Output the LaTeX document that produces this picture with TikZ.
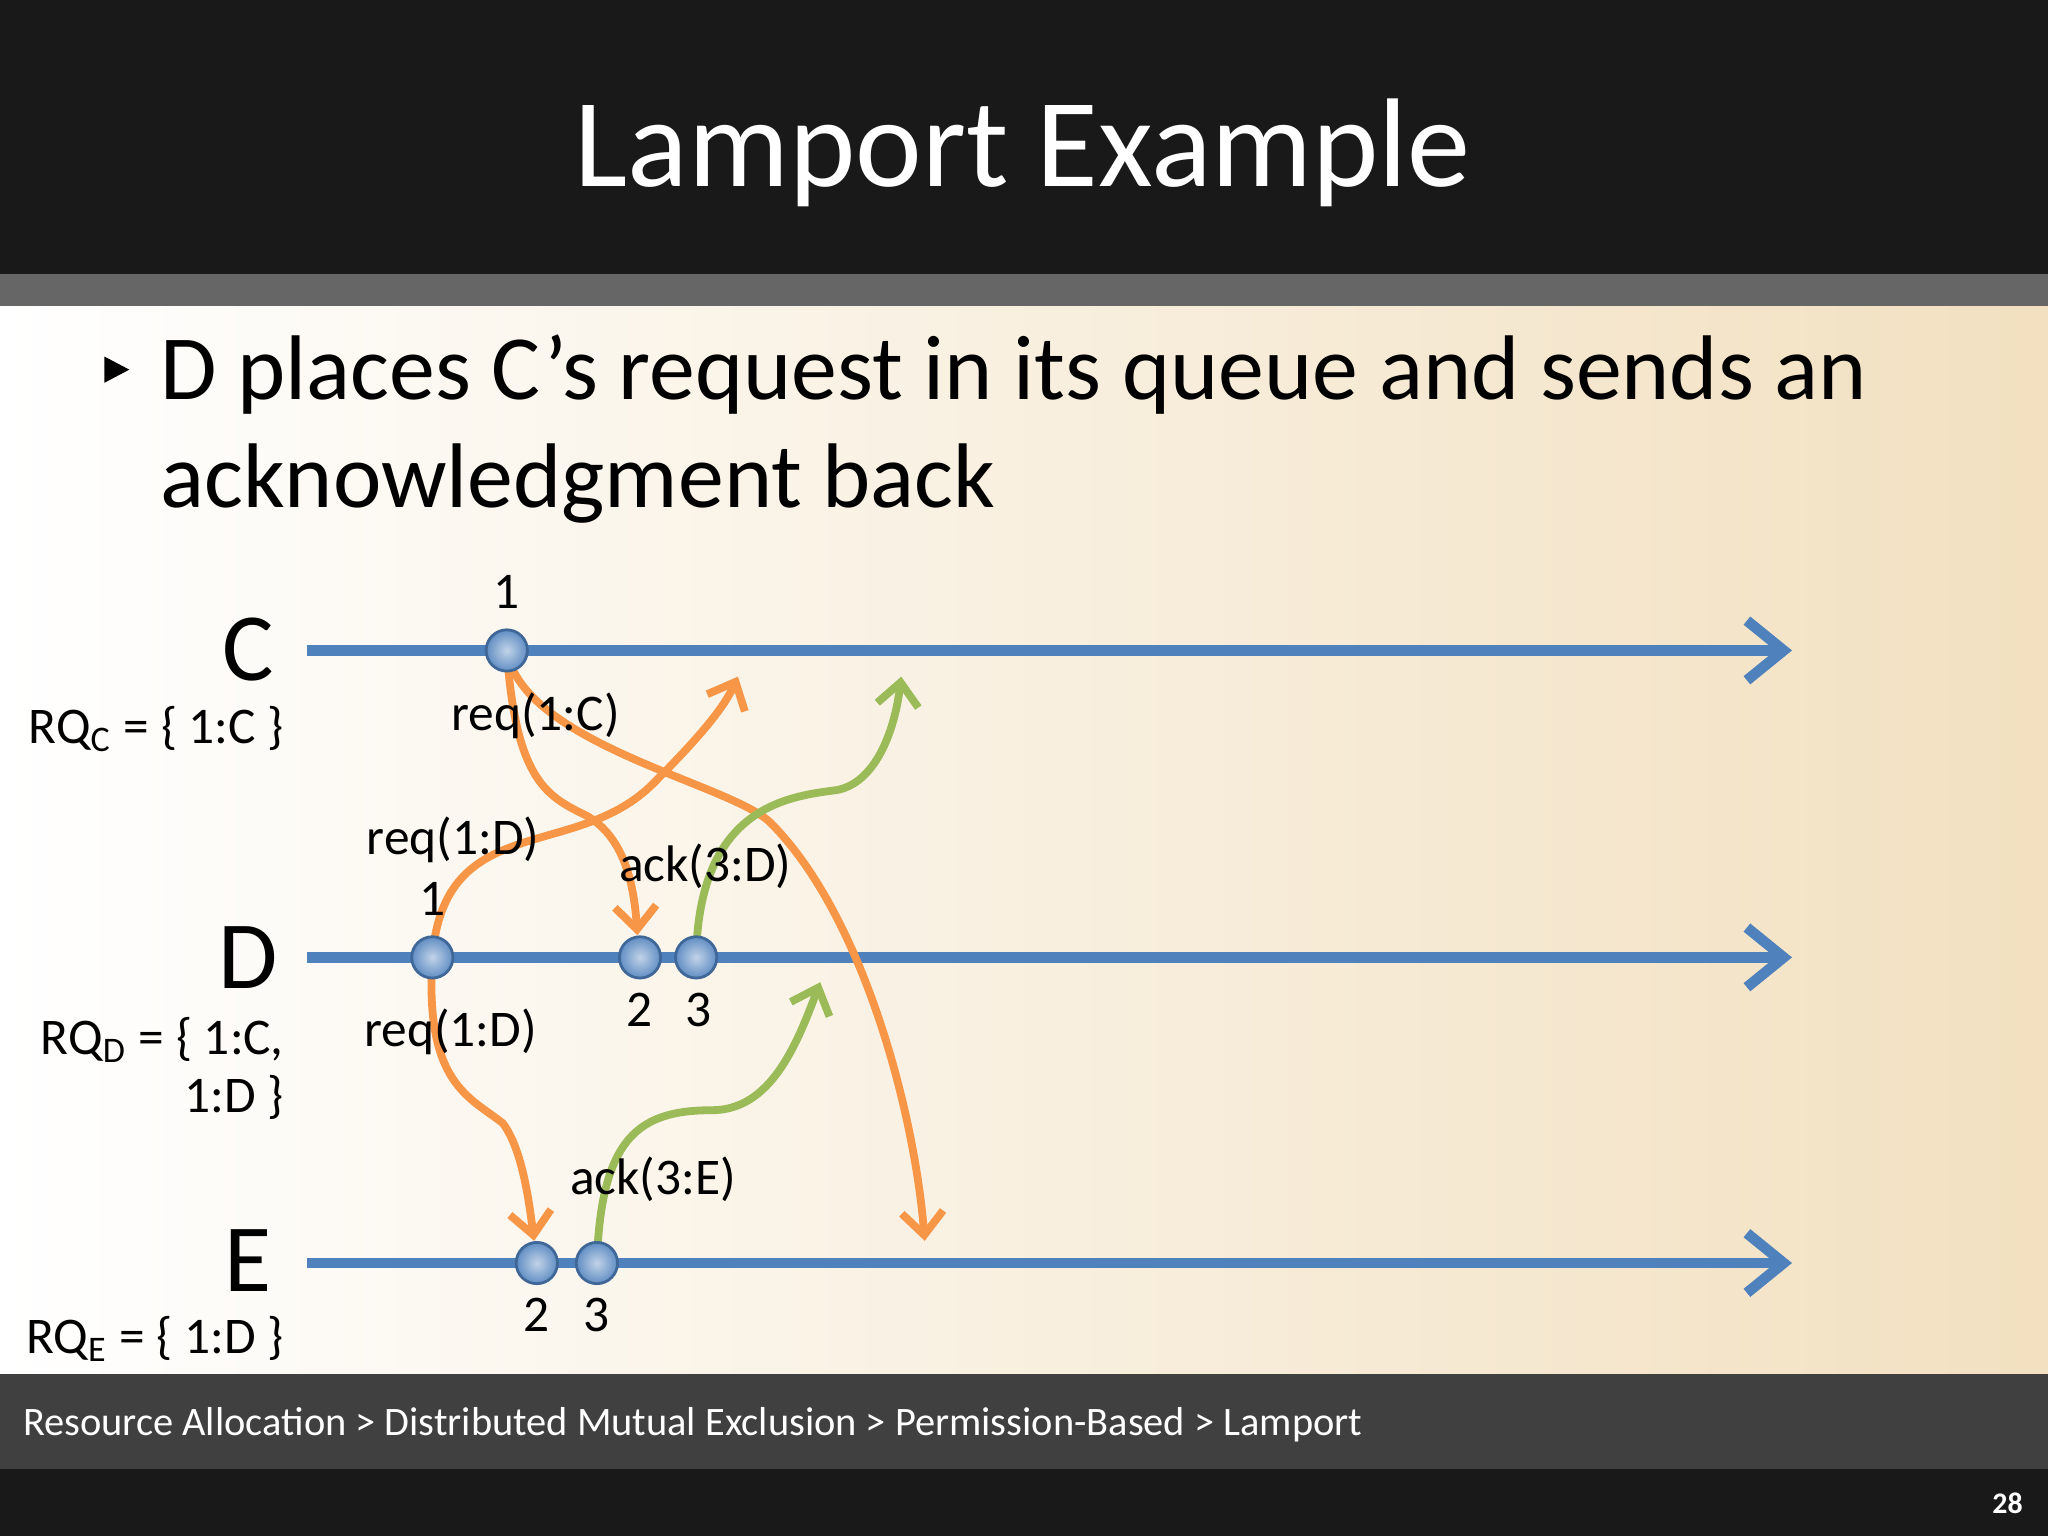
\documentclass[tikz,border=0pt]{standalone}
\usepackage{fontspec}
\setmainfont{Carlito}
\usetikzlibrary{arrows.meta}
\definecolor{tl}{HTML}{4F81BD}
\definecolor{og}{HTML}{F79646}
\definecolor{gr}{HTML}{9BBB59}
\tikzset{
 tline/.style={tl,line width=2.3pt,-{Straight Barb[length=8pt,width=13pt,line width=2.3pt]}},
 dot/.style={circle,draw=tl!80!black,line width=0.6pt,inner sep=0pt,minimum size=9pt,inner color=tl!35!white,outer color=tl!90!white},
 msgo/.style={og,line width=1.7pt,-{Straight Barb[length=5pt,width=9pt,line width=1.7pt]}},
 msgg/.style={gr,line width=1.7pt,-{Straight Barb[length=5pt,width=9pt,line width=1.7pt]}},
 lbl/.style={font=\fontsize{11.2}{13}\selectfont,inner sep=0pt},
 big/.style={font=\fontsize{21}{24}\selectfont,inner sep=0pt},
}
\begin{document}
\begin{tikzpicture}[x=0.1mm,y=-0.1mm]
\useasboundingbox (0,0) rectangle (1568,1176);
\fill[black!90] (0,0) rectangle (1568,210);
\fill[black!60] (0,210) rectangle (1568,235);
\shade[left color=white,right color={rgb,255:red,242;green,224;blue,192}] (0,235) rectangle (1568,1052);
\fill[black!75] (0,1052) rectangle (1568,1125);
\fill[black!90] (0,1125) rectangle (1568,1176);
\node[white,font=\fontsize{27.5}{32}\selectfont] (title) at (783,117) {Lamport Example};
\fill (80,273) -- (99,283) -- (80,293) -- cycle;
\node[anchor=west,font=\fontsize{20}{24}\selectfont,inner sep=0pt] (t1) at (122,287) {D places C’s request in its queue and sends an};
\node[anchor=west,font=\fontsize{20}{24}\selectfont,inner sep=0pt] (t2) at (122,370) {acknowledgment back};
\node[anchor=west,white,font=\fontsize{8.8}{10}\selectfont,inner sep=0pt] (ft) at (17,1091) {Resource Allocation > Distributed Mutual Exclusion > Permission-Based > Lamport};
\node[white,font=\bfseries\fontsize{6.5}{8}\selectfont] (pg) at (1537,1151) {28};

\node[big] (C) at (190,497) {C};
\node[big] (D) at (190,733) {D};
\node[big] (E) at (190,965) {E};
\node[lbl,anchor=east] (rqc) at (218,558) {RQ\textsubscript{C} = \{ 1:C \}};
\node[lbl,anchor=east] (rqd) at (218,796) {RQ\textsubscript{D} = \{ 1:C,};
\node[lbl,anchor=east] (rqd2) at (218,840) {1:D \}};
\node[lbl,anchor=east] (rqe) at (218,1025) {RQ\textsubscript{E} = \{ 1:D \}};

\coordinate (cs) at (235,498); \coordinate (ce) at (1372,498);
\coordinate (ds) at (235,733); \coordinate (de) at (1372,733);
\coordinate (es) at (235,967); \coordinate (ee) at (1372,967);
\draw[tline] (cs) -- (ce);
\draw[tline] (ds) -- (de);
\draw[tline] (es) -- (ee);

\coordinate (c1) at (388,498);
\coordinate (d1) at (331,733);
\coordinate (d2) at (490,733);
\coordinate (d3) at (533,733);
\coordinate (e2) at (411,967);
\coordinate (e3) at (457,967);
\coordinate (d2t) at (488,716);
\coordinate (e2t) at (409,950);
\coordinate (cA) at (565,518);
\coordinate (cB) at (690,518);
\coordinate (dA) at (628,752);
\coordinate (eA) at (708,950);

\draw[msgo] (c1) .. controls (395,600) and (420,610) .. (450,625) .. controls (475,640) and (485,670) .. (d2t);
\draw[msgo] (c1) .. controls (400,570) and (560,600) .. (590,630) .. controls (660,700) and (700,850) .. (eA);
\draw[msgo] (d1) .. controls (340,620) and (440,660) .. (500,600) .. controls (540,560) and (555,540) .. (cA);
\draw[msgo] (d1) .. controls (325,830) and (360,840) .. (385,860) .. controls (400,880) and (405,920) .. (e2t);
\draw[msgg] (d3) .. controls (535,620) and (600,610) .. (640,605) .. controls (670,600) and (685,560) .. (cB);
\draw[msgg] (e3) .. controls (460,870) and (490,850) .. (545,850) .. controls (590,850) and (610,800) .. (dA);

\foreach \p in {c1,d1,d2,d3,e2,e3} \node[dot] at (\p) {};

\node[lbl] (l1) at (388,453) {1};
\node[lbl] (l2) at (410,548) {req(1:C)};
\node[lbl] (l3) at (347,643) {req(1:D)};
\node[lbl] (l4) at (331,688) {1};
\node[lbl] (l5) at (540,663) {ack(3:D)};
\node[lbl] (l6) at (345,790) {req(1:D)};
\node[lbl] (l7) at (490,773) {2};
\node[lbl] (l8) at (535,773) {3};
\node[lbl] (l9) at (500,903) {ack(3:E)};
\node[lbl] (l10) at (411,1007) {2};
\node[lbl] (l11) at (457,1007) {3};
\end{tikzpicture}
\end{document}
